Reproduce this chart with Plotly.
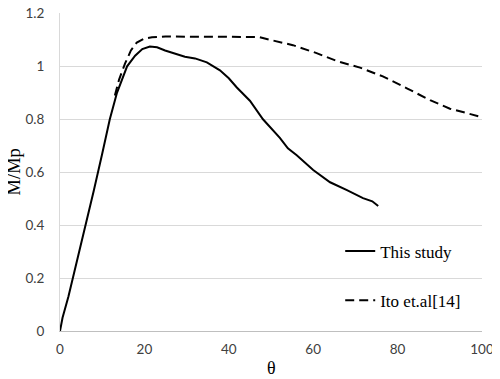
import plotly.graph_objects as go

# This study (solid)
study_theta = [0, 0.3, 0.6, 2.0, 4.0, 6.0, 8.0, 10.0, 10.7, 11.8, 13.5, 15.9, 17.8, 19.5, 21.3, 23.0, 24.9,
               27.0, 29.6, 32.0, 34.8, 37.9, 40.0, 41.9, 45.0, 48.1, 50.0, 52.1, 54.0, 56.1, 60.0,
               64.0, 68.0, 71.8, 74.0, 75.4]
study_m = [0.0, 0.03, 0.05, 0.13, 0.26, 0.39, 0.53, 0.67, 0.72, 0.80, 0.90, 1.00, 1.04, 1.065, 1.075, 1.072, 1.06,
           1.048, 1.036, 1.03, 1.015, 0.985, 0.955, 0.92, 0.87, 0.80, 0.765, 0.73, 0.69, 0.664, 0.608,
           0.562, 0.532, 0.502, 0.49, 0.472]

# Ito et.al[14] (dashed)
ito_theta = [13.0, 14.0, 15.4, 16.8, 18.2, 20.0, 21.8, 25.0, 30.0, 35.0, 40.0, 45.0, 47.0, 49.8,
             55.2, 60.8, 65.6, 71.1, 76.5, 82.2, 87.7, 92.4, 96.0, 100.0]
ito_m = [0.89, 0.95, 1.01, 1.06, 1.09, 1.105, 1.11, 1.113, 1.112, 1.112, 1.112, 1.112, 1.111, 1.10,
         1.08, 1.05, 1.02, 0.995, 0.962, 0.917, 0.872, 0.84, 0.825, 0.808]

y_ticks = [0, 0.2, 0.4, 0.6, 0.8, 1.0, 1.2]
y_ticktext = ["0", "0.2", "0.4", "0.6", "0.8", "1", "1.2"]
x_ticks = [0, 20, 40, 60, 80, 100]

fig = go.Figure()
fig.add_trace(go.Scatter(x=study_theta, y=study_m, mode="lines", name="This study",
                         line=dict(color="black", width=2), legendgroup="a"))
fig.add_trace(go.Scatter(x=ito_theta, y=ito_m, mode="lines", name="Ito et.al[14]",
                         line=dict(color="black", width=2, dash="9px,5px"), legendgroup="b"))

tick_font = dict(family="Lato", size=13.5, color="#404040")
serif = "Liberation Serif"

# page body has an 8px margin, so the figure is sized and offset to compensate
fig.update_layout(
    width=492, height=371,
    margin=dict(l=52, r=18, t=5, b=48),
    paper_bgcolor="white", plot_bgcolor="white",
    showlegend=True,
    legend=dict(x=0.664, y=0.173, xanchor="left", yanchor="middle",
                font=dict(family=serif, size=17, color="black"),
                tracegroupgap=24, traceorder="grouped", bgcolor="rgba(0,0,0,0)"),
    xaxis=dict(range=[0, 100], tickmode="array", tickvals=x_ticks, showgrid=False, automargin=False,
               showline=True, linecolor="#bfbfbf", linewidth=1,
               ticks="", tickfont=tick_font, ticklabelstandoff=6, ticklabeloverflow="allow",
               zeroline=False),
    yaxis=dict(range=[0, 1.2015], tickmode="array", tickvals=y_ticks, ticktext=y_ticktext,
               showgrid=True, gridcolor="#d9d9d9", gridwidth=1,
               automargin=False,
               showline=True, linecolor="#d9d9d9", linewidth=1,
               ticks="", tickfont=tick_font, ticklabelstandoff=12, ticklabeloverflow="allow",
               zeroline=False),
    annotations=[
        dict(text="M/Mp", xref="paper", yref="paper", x=-0.108, y=0.5, xanchor="center",
             yanchor="middle", textangle=-90, showarrow=False,
             font=dict(family=serif, size=18.5, color="black")),
        dict(text="θ", xref="paper", yref="paper", x=0.5, y=-0.116, xanchor="center",
             yanchor="middle", showarrow=False,
             font=dict(family=serif, size=18, color="black")),
    ],
)

fig.write_html("out.html")
